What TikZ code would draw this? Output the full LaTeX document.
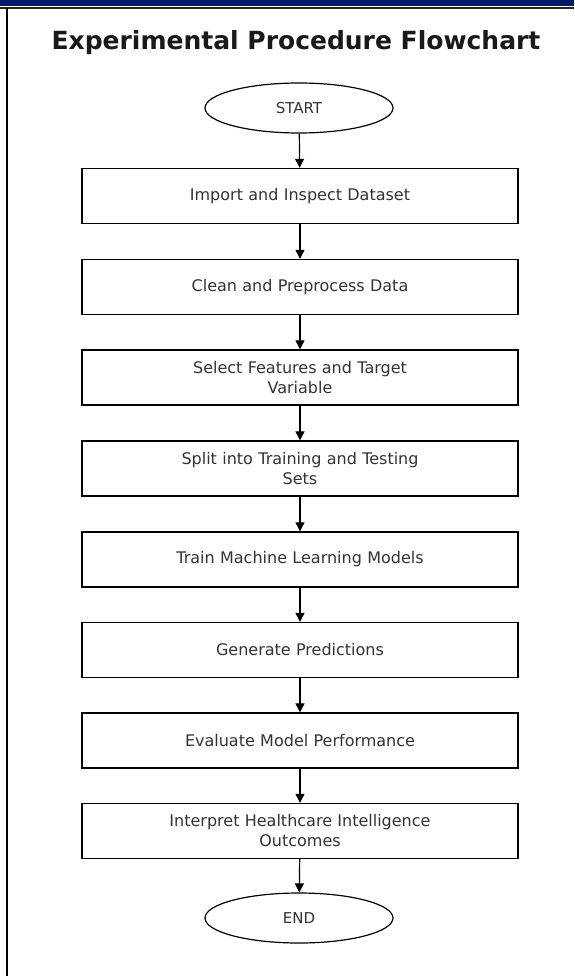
\documentclass[tikz,border=0pt]{standalone}
\usepackage{fontspec}
\setmainfont{DejaVu Sans}
\usetikzlibrary{shapes.geometric,arrows.meta}
\definecolor{navy}{HTML}{0A1A5E}
\definecolor{txt}{HTML}{333333}
\begin{document}
\begin{tikzpicture}[x=1pt,y=-1pt,
  stepbox/.style={draw=black,line width=1.4pt,minimum width=436pt,minimum height=55pt,align=center,text width=420pt,font=\fontsize{16}{20}\selectfont,text=txt,inner sep=0pt},
  term/.style={draw=black,line width=1.2pt,ellipse,minimum width=188pt,minimum height=50pt,font=\fontsize{15}{18}\selectfont,text=txt,inner sep=0pt},
  conn/.style={draw=black,line width=1.2pt,-{Triangle[length=9pt,width=9pt]}}]
\useasboundingbox (0,0) rectangle (574,976);
\fill[white] (0,0) rectangle (574,976);
\fill[navy] (0,0) rectangle (574,6);
\draw[line width=2pt,black!85] (0,8) -- (574,8);
\draw[line width=2.2pt,black] (7,8) -- (7,976);
\node[font=\bfseries\fontsize{25}{28}\selectfont,text=black!90] (title) at (296,43) {Experimental Procedure Flowchart};
\node[term] (start) at (299,108) {START};
\node[stepbox] (b1) at (300,196) {Import and Inspect Dataset};
\node[stepbox] (b2) at (300,287) {Clean and Preprocess Data};
\node[stepbox] (b3) at (300,377.5) {Select Features and Target\\Variable};
\node[stepbox] (b4) at (300,468.5) {Split into Training and Testing\\Sets};
\node[stepbox] (b5) at (300,559.5) {Train Machine Learning Models};
\node[stepbox] (b6) at (300,650) {Generate Predictions};
\node[stepbox] (b7) at (300,740.5) {Evaluate Model Performance};
\node[stepbox] (b8) at (300,831) {Interpret Healthcare Intelligence\\Outcomes};
\node[term] (end) at (299,918) {END};
\draw[conn] (start) -- (b1);
\draw[conn] (b1) -- (b2);
\draw[conn] (b2) -- (b3);
\draw[conn] (b3) -- (b4);
\draw[conn] (b4) -- (b5);
\draw[conn] (b5) -- (b6);
\draw[conn] (b6) -- (b7);
\draw[conn] (b7) -- (b8);
\draw[conn] (b8) -- (end);
\end{tikzpicture}
\end{document}
